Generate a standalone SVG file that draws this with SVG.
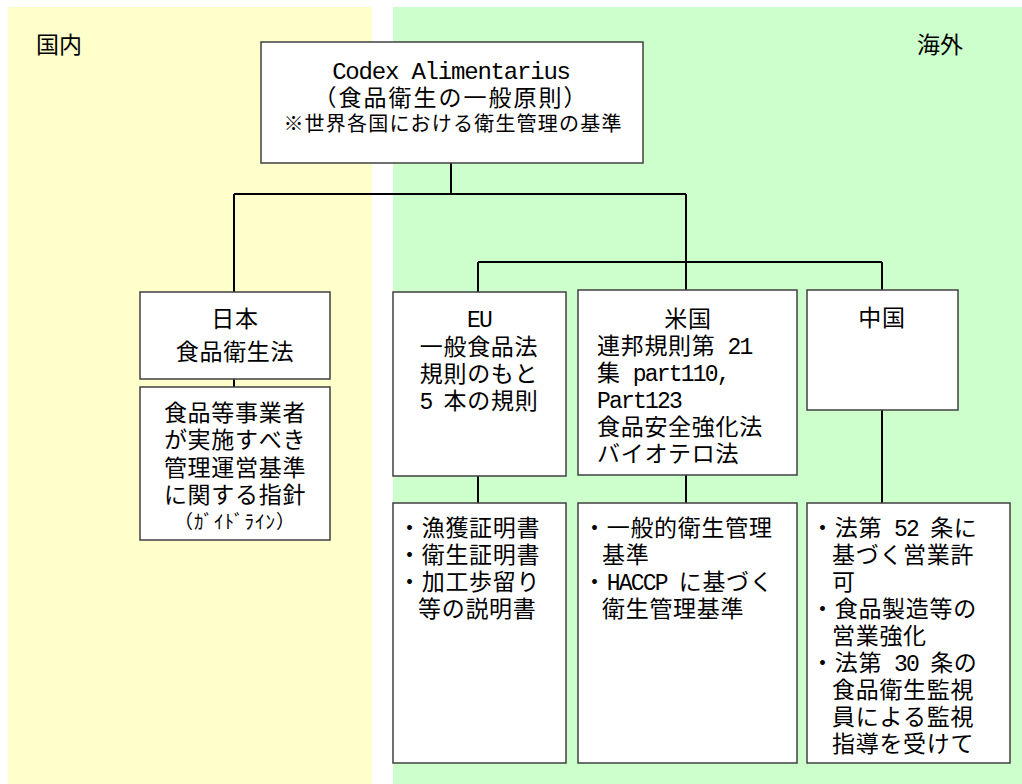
<svg xmlns="http://www.w3.org/2000/svg" width="1022" height="784" viewBox="0 0 1022 784">
<style>
text{font-family:"Liberation Mono","Noto Sans Mono CJK JP","Noto Sans CJK JP",monospace;fill:#000;font-size:23px;letter-spacing:0.7px}
.c{text-anchor:middle}
.l{letter-spacing:-1.8px}
.box{fill:#fff;stroke:#404040;stroke-width:1.5}
.ln{stroke:#000;stroke-width:2;fill:none}
</style>
<rect x="8" y="7" width="364" height="777" fill="#FFFFCC"/>
<rect x="393" y="7" width="629" height="777" fill="#CCFFCC"/>
<text x="36" y="53" style="letter-spacing:0">国内</text>
<text x="917" y="53" style="letter-spacing:0">海外</text>
<g id="connectors">
<path class="ln" d="M451 163V194M234 194H686M234 194V292M686 194V290M478 262H882M478 262V292M882 262V290M234 379V387M478 476V503M686 475V503M882 410V503"/>
</g>
<g id="codex">
<rect class="box" x="261" y="42" width="382" height="121"/>
<text class="c"><tspan x="451" y="79" style="font-size:24px;letter-spacing:-1.2px">Codex Alimentarius</tspan><tspan x="451" y="106" style="letter-spacing:2px">（食品衛生の一般原則）</tspan><tspan x="453" y="131" style="font-size:20px;letter-spacing:1.2px">※世界各国における衛生管理の基準</tspan></text>
</g>
<g id="japan">
<rect class="box" x="140" y="292" width="190" height="87"/>
<text class="c"><tspan x="235" y="327">日本</tspan><tspan x="235" y="360">食品衛生法</tspan></text>
</g>
<g id="japan-guideline">
<rect class="box" x="140" y="387" width="190" height="153"/>
<text class="c"><tspan x="235" y="421">食品等事業者</tspan><tspan x="235" y="448">が実施すべき</tspan><tspan x="235" y="476">管理運営基準</tspan><tspan x="235" y="503">に関する指針</tspan><tspan x="235" y="529" style="font-size:19px;letter-spacing:1px">（ｶﾞｲﾄﾞﾗｲﾝ）</tspan></text>
</g>
<g id="eu">
<rect class="box" x="393" y="292" width="173" height="184"/>
<text class="c"><tspan x="479" y="327" class="l">EU</tspan><tspan x="479" y="355">一般食品法</tspan><tspan x="479" y="382">規則のもと</tspan><tspan x="479" y="409"><tspan class="l">5 </tspan>本の規則</tspan></text>
</g>
<g id="us">
<rect class="box" x="578" y="290" width="219" height="185"/>
<text class="c" x="688" y="327">米国</text>
<text><tspan x="597" y="354">連邦規則第<tspan class="l"> 21</tspan></tspan><tspan x="597" y="381">集<tspan class="l"> part110,</tspan></tspan><tspan x="597" y="408" class="l">Part123</tspan><tspan x="597" y="435">食品安全強化法</tspan><tspan x="597" y="462">バイオテロ法</tspan></text>
</g>
<g id="china">
<rect class="box" x="807" y="290" width="151" height="120"/>
<text class="c" x="882" y="326">中国</text>
</g>
<g id="eu-docs">
<rect class="box" x="393" y="503" width="173" height="260"/>
<text><tspan x="398" y="536">・漁獲証明書</tspan><tspan x="398" y="563">・衛生証明書</tspan><tspan x="398" y="590">・加工歩留り</tspan><tspan x="418" y="617">等の説明書</tspan></text>
</g>
<g id="us-docs">
<rect class="box" x="578" y="503" width="219" height="260"/>
<text><tspan x="583" y="536">・一般的衛生管理</tspan><tspan x="602" y="563">基準</tspan><tspan x="583" y="590">・<tspan class="l">HACCP </tspan>に基づく</tspan><tspan x="602" y="617">衛生管理基準</tspan></text>
</g>
<g id="china-docs">
<rect class="box" x="807" y="503" width="203" height="260"/>
<text><tspan x="811" y="536">・法第<tspan class="l"> 52 </tspan>条に</tspan><tspan x="832" y="563">基づく営業許</tspan><tspan x="832" y="590">可</tspan><tspan x="811" y="617">・食品製造等の</tspan><tspan x="832" y="644">営業強化</tspan><tspan x="811" y="671">・法第<tspan class="l"> 30 </tspan>条の</tspan><tspan x="832" y="698">食品衛生監視</tspan><tspan x="832" y="725">員による監視</tspan><tspan x="832" y="752">指導を受けて</tspan></text>
</g>
</svg>
